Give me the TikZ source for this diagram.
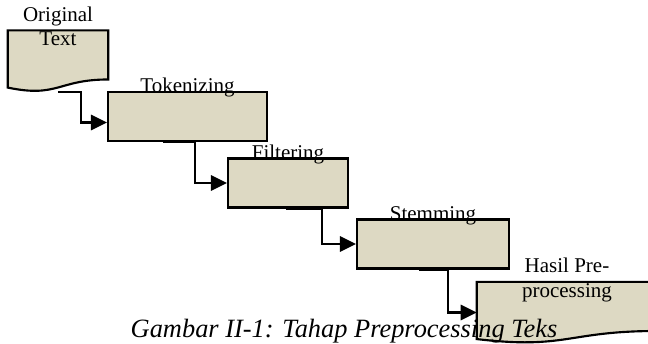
\documentclass[tikz,border=0pt]{standalone}
\usepackage{fontspec}
\setmainfont{Liberation Serif}
\usepackage{tikz}
\usetikzlibrary{positioning,arrows.meta,calc}

\definecolor{boxtan}{RGB}{221,217,195}

\tikzset{
	stepbox/.style={draw, line width=1.6pt, fill=boxtan, inner sep=0pt, minimum height=36.75pt},
	docbox/.style={inner sep=0pt, minimum height=45.5pt},
	steplabel/.style={inner sep=0pt, font=\fontsize{15.75}{18.5}\selectfont},
	flow/.style={line width=1.6pt, -{Triangle[length=12pt,width=11.5pt]}},
}

\begin{document}
\begin{tikzpicture}[x=0.75pt, y=-0.75pt]
		\useasboundingbox (0,0) rectangle (648,343);
		
		% document shapes
		\node [docbox, minimum width=75pt] (orig) at (58,61) {};
		\node [docbox, minimum width=135pt] (hasil) at (567,312.5) {};
		\foreach \d in {orig,hasil}
		\filldraw [line width=1.6pt, fill=boxtan] (\d.north west) -- (\d.north east)
		-- ($(\d.north east)!0.802!(\d.south east)$)
		.. controls ($(\d.north)!0.802!(\d.south)$) and ($(\d.north)!1.107!(\d.south)$)
		.. ($(\d.north west)!0.934!(\d.south west)$) -- cycle;
		
		% process steps
		\node [stepbox, minimum width=119.25pt] (tok) at (187.5,116.5) {};
		\node [stepbox, minimum width=90pt] (filt) at (288,183) {};
		\node [stepbox, minimum width=114pt] (stem) at (433,244) {};
		
		\foreach \n/\l in {tok/Tokenizing, filt/Filtering, stem/Stemming}
		\node [steplabel, anchor=base] (\n-lbl) at ([yshift=-1.5pt]\n.north) {\l};
		
		% base of a two-line label is its last line
		\node [steplabel, align=center, anchor=base] (orig-lbl) at (58,45.7) {Original\\Text};
		\node [steplabel, align=center, anchor=base] (hasil-lbl) at (567,297) {Hasil Pre-\\processing};
		
		% connectors
		\draw [flow] (orig.south) -- ([xshift=17pt]orig.south) |- ([yshift=-4.5pt]tok.west);
		\draw [flow] ([xshift=-18.4pt]tok.south) -- ([xshift=5.6pt]tok.south) |- (filt.west);
		\draw [flow] ([xshift=-1.5pt]filt.south) -- ([xshift=25.5pt]filt.south) |- (stem.west);
		\draw [flow] ([xshift=-10.5pt]stem.south) -- ([xshift=11.25pt]stem.south) |- (hasil.west);
		
		\node [anchor=base, inner sep=0pt, font=\fontsize{19.8}{22}\selectfont\itshape] (caption)
		at (344,337.7) {Gambar II-1: Tahap Preprocessing Teks};
		
	\end{tikzpicture}
\end{document}
